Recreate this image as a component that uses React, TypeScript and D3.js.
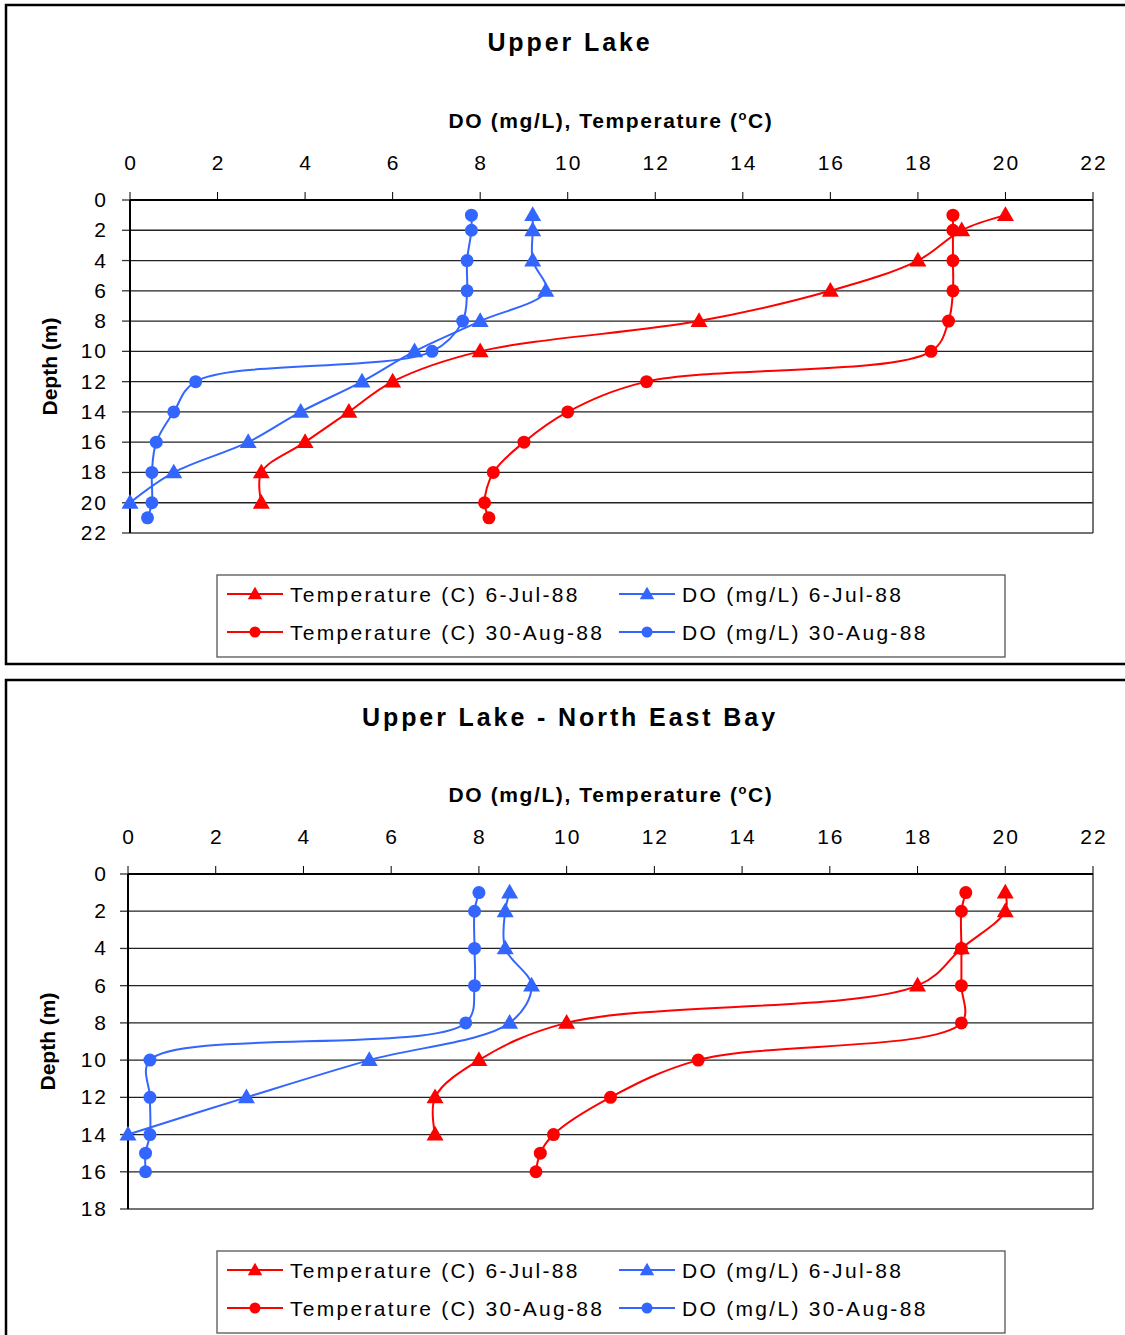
import React from 'react';
import * as d3 from 'd3';

// Upper Lake (depths in m, values in mg/L or deg C)
const upperTempJulDepth = [1, 2, 4, 6, 8, 10, 12, 14, 16, 18, 20];
const upperTempJul = [20, 19, 18, 16, 13, 8, 6, 5, 4, 3, 3];
const upperTempAugDepth = [1, 2, 4, 6, 8, 10, 12, 14, 16, 18, 20, 21];
const upperTempAug = [18.8, 18.8, 18.8, 18.8, 18.7, 18.3, 11.8, 10, 9, 8.3, 8.1, 8.2];
const upperDoJulDepth = [1, 2, 4, 6, 8, 10, 12, 14, 16, 18, 20];
const upperDoJul = [9.2, 9.2, 9.2, 9.5, 8, 6.5, 5.3, 3.9, 2.7, 1, 0];
const upperDoAugDepth = [1, 2, 4, 6, 8, 10, 12, 14, 16, 18, 20, 21];
const upperDoAug = [7.8, 7.8, 7.7, 7.7, 7.6, 6.9, 1.5, 1, 0.6, 0.5, 0.5, 0.4];

// Upper Lake - North East Bay
const nebTempJulDepth = [1, 2, 4, 6, 8, 10, 12, 14];
const nebTempJul = [20, 20, 19, 18, 10, 8, 7, 7];
const nebTempAugDepth = [1, 2, 4, 6, 8, 10, 12, 14, 15, 16];
const nebTempAug = [19.1, 19, 19, 19, 19, 13, 11, 9.7, 9.4, 9.3];
const nebDoJulDepth = [1, 2, 4, 6, 8, 10, 12, 14];
const nebDoJul = [8.7, 8.6, 8.6, 9.2, 8.7, 5.5, 2.7, 0];
const nebDoAugDepth = [1, 2, 4, 6, 8, 10, 12, 14, 15, 16];
const nebDoAug = [8, 7.9, 7.9, 7.9, 7.7, 0.5, 0.5, 0.5, 0.4, 0.4];

const xTicks = [0, 2, 4, 6, 8, 10, 12, 14, 16, 18, 20, 22];
const legendLabels = [
  'Temperature (C) 6-Jul-88',
  'DO (mg/L) 6-Jul-88',
  'Temperature (C) 30-Aug-88',
  'DO (mg/L) 30-Aug-88',
];

const RED = '#FF0000';
const BLUE = '#3366FF';
const FONT = '"Liberation Sans", Arial, sans-serif';

type Series = { depth: number[]; vals: number[]; color: string; shape: 'tri' | 'circ' };

const triPath = (size: number) => d3.symbol(d3.symbolTriangle, size)()!;

const Marker = ({ x, y, shape, color, big }: any) =>
  shape === 'tri' ? (
    <path d={triPath(big ? 125 : 90)} transform={`translate(${x},${y + 1})`} fill={color} />
  ) : (
    <circle cx={x} cy={y} r={big ? 6.5 : 5.5} fill={color} />
  );

const Panel = ({ top, boxBottom, title, plot, yMax, yTicks, series, legendTop }: any) => {
  const x = d3.scaleLinear().domain([0, 22]).range([plot.left, plot.right]);
  const y = d3.scaleLinear().domain([0, yMax]).range([plot.top, plot.bottom]);
  const line = d3
    .line<[number, number]>()
    .x(d => x(d[0]))
    .y(d => y(d[1]))
    .curve(d3.curveCatmullRom.alpha(0.5));

  return (
    <g>
      <path d={`M1130,${top} H6 V${boxBottom} H1130`} fill="none" stroke="#000" strokeWidth={2.5} />
      <text x={570} y={top + 46} textAnchor="middle" fontFamily={FONT} fontWeight="bold" fontSize={25} letterSpacing={2.9}>
        {title}
      </text>
      <text x={611} y={plot.top - 72} textAnchor="middle" fontFamily={FONT} fontWeight="bold" fontSize={21} letterSpacing={1.6}>
        DO (mg/L), Temperature (
        <tspan fontSize={13} dy={-8}>o</tspan>
        <tspan dy={8}>C)</tspan>
      </text>
      {xTicks.map(t => (
        <g key={'xt' + t}>
          <text x={x(t) + 1} y={plot.top - 30} textAnchor="middle" fontFamily={FONT} fontSize={21} letterSpacing={2}>
            {t}
          </text>
          <line x1={x(t)} x2={x(t)} y1={plot.top - 8} y2={plot.top} stroke="#000" strokeWidth={1} />
        </g>
      ))}
      {yTicks.map((t: number) => (
        <g key={'yt' + t}>
          {t > 0 && t < yMax && (
            <line x1={plot.left} x2={plot.right} y1={y(t)} y2={y(t)} stroke="#222" strokeWidth={1.3} />
          )}
          <line x1={plot.left - 8} x2={plot.left} y1={y(t)} y2={y(t)} stroke="#333" strokeWidth={1.3} />
          <text x={108} y={y(t) + 7} textAnchor="end" fontFamily={FONT} fontSize={21} letterSpacing={2}>
            {t}
          </text>
        </g>
      ))}
      <line x1={plot.right} x2={plot.right} y1={plot.top} y2={plot.bottom} stroke="#444" strokeWidth={1.5} />
      <line x1={plot.left} x2={plot.right} y1={plot.bottom} y2={plot.bottom} stroke="#444" strokeWidth={1.5} />
      <line x1={plot.left} x2={plot.right} y1={plot.top} y2={plot.top} stroke="#000" strokeWidth={2} />
      <line x1={plot.left} x2={plot.left} y1={plot.top} y2={plot.bottom} stroke="#000" strokeWidth={2} />
      <text
        transform={`translate(${plot.left - 73},${(plot.top + plot.bottom) / 2}) rotate(-90)`}
        textAnchor="middle"
        fontFamily={FONT}
        fontWeight="bold"
        fontSize={21}
      >
        Depth (m)
      </text>
      {series.map((s: Series, i: number) => {
        const pts = s.vals.map((v, j) => [v, s.depth[j]] as [number, number]);
        return (
          <g key={'s' + i}>
            <path d={line(pts)!} fill="none" stroke={s.color} strokeWidth={2} />
            {pts.map((p, j) => (
              <Marker key={j} x={x(p[0])} y={y(p[1])} shape={s.shape} color={s.color} big />
            ))}
          </g>
        );
      })}
      <rect x={217} y={legendTop} width={788} height={82} fill="#fff" stroke="#555" strokeWidth={1.3} />
      {legendLabels.map((lab, i) => {
        const col = i % 2;
        const row = Math.floor(i / 2);
        const lx = col === 0 ? 227 : 619;
        const ly = legendTop + 19 + row * 38;
        const color = col === 0 ? RED : BLUE;
        return (
          <g key={'lg' + i}>
            <line x1={lx} x2={lx + 56} y1={ly} y2={ly} stroke={color} strokeWidth={2} />
            <Marker x={lx + 28} y={ly} shape={row === 0 ? 'tri' : 'circ'} color={color} />
            <text x={lx + 63} y={ly + 8} fontFamily={FONT} fontSize={21} letterSpacing={2.3}>
              {lab}
            </text>
          </g>
        );
      })}
    </g>
  );
};

export default function App() {
  const upperSeries: Series[] = [
    { depth: upperTempJulDepth, vals: upperTempJul, color: RED, shape: 'tri' },
    { depth: upperTempAugDepth, vals: upperTempAug, color: RED, shape: 'circ' },
    { depth: upperDoJulDepth, vals: upperDoJul, color: BLUE, shape: 'tri' },
    { depth: upperDoAugDepth, vals: upperDoAug, color: BLUE, shape: 'circ' },
  ];
  const nebSeries: Series[] = [
    { depth: nebTempJulDepth, vals: nebTempJul, color: RED, shape: 'tri' },
    { depth: nebTempAugDepth, vals: nebTempAug, color: RED, shape: 'circ' },
    { depth: nebDoJulDepth, vals: nebDoJul, color: BLUE, shape: 'tri' },
    { depth: nebDoAugDepth, vals: nebDoAug, color: BLUE, shape: 'circ' },
  ];
  return (
    <svg width={1125} height={1335} style={{ position: 'absolute', left: 0, top: 0, background: '#fff' }}>
      <rect width={1125} height={1335} fill="#fff" />
      <Panel
        top={5}
        boxBottom={664}
        title="Upper Lake"
        plot={{ left: 130, right: 1093, top: 200, bottom: 533 }}
        yMax={22}
        yTicks={d3.range(0, 23, 2)}
        series={upperSeries}
        legendTop={575}
      />
      <Panel
        top={680}
        boxBottom={1345}
        title="Upper Lake - North East Bay"
        plot={{ left: 128, right: 1093, top: 874, bottom: 1209 }}
        yMax={18}
        yTicks={d3.range(0, 19, 2)}
        series={nebSeries}
        legendTop={1251}
      />
    </svg>
  );
}
